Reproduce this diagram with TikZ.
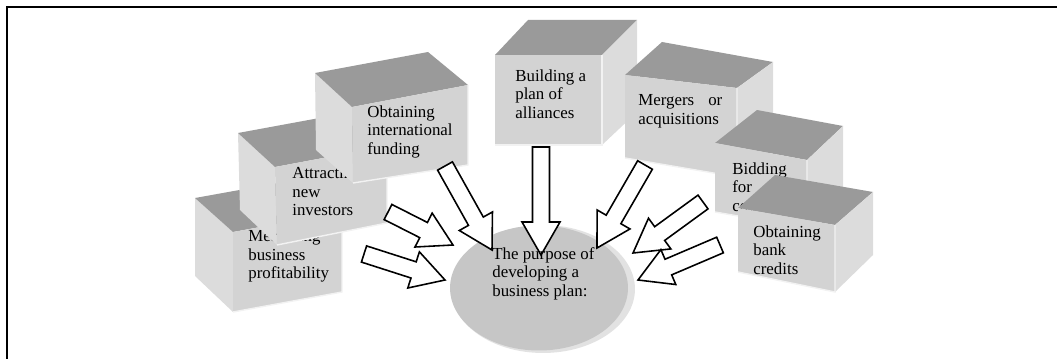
\documentclass[tikz,border=0pt]{standalone}
\usepackage{fontspec}
\setmainfont{Liberation Serif}
\usetikzlibrary{calc}
\definecolor{topc}{HTML}{9A9A9A}
\definecolor{frontc}{HTML}{D3D3D3}
\definecolor{sidec}{HTML}{DCDCDC}
\definecolor{ellc}{HTML}{C6C6C6}
\definecolor{rimc}{HTML}{E2E2E2}
\definecolor{hlc}{HTML}{F2F2F2}
\tikzset{
  lbl/.style={font=\fontsize{9.6}{10.6}\selectfont, align=left, inner sep=0pt, anchor=north west},
  barrow/.style={draw=black, fill=white, line width=0.9pt, line join=miter},
  hl/.style={draw=hlc, line width=0.8pt},
  frame/.style={line width=1.1pt}
}
\newcommand{\blockarr}[3]{%
  \coordinate (#1hc) at ($(#3)!0.66cm!(#2)$);
  \draw[barrow] ($(#2)!0.17cm!90:(#3)$) -- ($(#1hc)!0.17cm!90:(#3)$) -- ($(#1hc)!0.38cm!90:(#3)$)
     -- (#3) -- ($(#1hc)!0.38cm!-90:(#3)$) -- ($(#1hc)!0.17cm!-90:(#3)$) -- ($(#2)!0.17cm!-90:(#3)$) -- cycle;
}
\begin{document}
\begin{tikzpicture}[x=0.02cm,y=-0.02cm]
\useasboundingbox (0,0) rectangle (1057,358);
\draw[frame] (7,360) -- (7,7) -- (1060,7);

% Box 1: Measuring
\fill[sidec] (233,232) -- (195,198) -- (195,276) -- (233,312) -- cycle;
\fill[topc] (233,232) -- (342,212) -- (306,178) -- (195,198) -- cycle;
\fill[frontc] (233,232) -- (342,212) -- (342,292) -- (233,312) -- cycle;
\draw[hl] (233,312) -- (342,292) -- (342,212);
\node[lbl] (t1) at (248,230) {Measuring\\business\\profitability};

% Box 2: Attracting
\fill[sidec] (275,167) -- (238,133) -- (240,210) -- (277,245) -- cycle;
\fill[topc] (275,167) -- (387,146) -- (352,112) -- (238,133) -- cycle;
\fill[frontc] (275,167) -- (387,146) -- (387,223) -- (277,245) -- cycle;
\draw[hl] (277,245) -- (387,223) -- (387,146);
\node[lbl] (t2) at (292,167) {Attracting\\new\\investors};

% Box 3: Obtaining international funding
\fill[sidec] (352,107) -- (315,73) -- (316,150) -- (353,183) -- cycle;
\fill[topc] (352,107) -- (468,85) -- (428,52) -- (315,73) -- cycle;
\fill[frontc] (352,107) -- (468,85) -- (468,165) -- (353,183) -- cycle;
\draw[hl] (353,183) -- (468,165) -- (468,85);
\node[lbl] (t3) at (367,105) {Obtaining\\international\\funding};

% Box 4: Building a plan of alliances
\fill[topc] (495,55) -- (602,55) -- (637,20) -- (528,20) -- cycle;
\fill[sidec] (602,55) -- (637,20) -- (637,112) -- (602,145) -- cycle;
\fill[frontc] (495,55) -- (602,55) -- (602,145) -- (495,145) -- cycle;
\draw[hl] (495,145) -- (602,145) -- (602,55);
\node[lbl] (t4) at (515,69) {Building a\\plan of\\alliances};

% Box 5: Mergers or acquisitions
\fill[topc] (625,75) -- (737,88) -- (773,62) -- (662,42) -- cycle;
\fill[sidec] (737,88) -- (773,62) -- (773,150) -- (737,177) -- cycle;
\fill[frontc] (625,75) -- (737,88) -- (737,177) -- (625,158) -- cycle;
\draw[hl] (625,158) -- (737,177) -- (737,88);
\node[lbl] (t5) at (638,94) {\makebox[1.68cm][l]{Mergers\hfill or}\\acquisitions};

% Box 6: Bidding for contracts
\fill[topc] (715,143) -- (807,160) -- (843,126) -- (757,110) -- cycle;
\fill[sidec] (807,160) -- (843,126) -- (843,200) -- (807,228) -- cycle;
\fill[frontc] (715,143) -- (807,160) -- (807,228) -- (715,212) -- cycle;
\draw[hl] (715,212) -- (807,228) -- (807,160);
\node[lbl] (t6) at (732,162) {Bidding\\for\\contracts};

% Box 7: Obtaining bank credits
\fill[topc] (738,208) -- (835,225) -- (873,192) -- (775,175) -- cycle;
\fill[sidec] (835,225) -- (873,192) -- (873,255) -- (835,292) -- cycle;
\fill[frontc] (738,208) -- (835,225) -- (835,292) -- (738,272) -- cycle;
\draw[hl] (738,272) -- (835,292) -- (835,225);
\node[lbl] (t7) at (753,225) {Obtaining\\bank\\credits};

% Central ellipse
\fill[rimc] (543,289) ellipse [x radius=1.84cm, y radius=1.28cm];
\fill[ellc] (539,288) ellipse [x radius=1.78cm, y radius=1.25cm];

% connector end points
\coordinate (a1) at (364,254); \coordinate (b1) at (445,280);
\coordinate (a2) at (388,212); \coordinate (b2) at (453,245);
\coordinate (a3) at (445,166); \coordinate (b3) at (492,250);
\coordinate (a4) at (541,147); \coordinate (b4) at (541,255);
\coordinate (a5) at (645,165); \coordinate (b5) at (597,248);
\coordinate (a6) at (703,202); \coordinate (b6) at (633,253);
\coordinate (a7) at (720,245); \coordinate (b7) at (638,280);

\blockarr{c1}{a1}{b1}
\blockarr{c2}{a2}{b2}
\blockarr{c3}{a3}{b3}
\blockarr{c4}{a4}{b4}
\blockarr{c5}{a5}{b5}
\blockarr{c6}{a6}{b6}
\blockarr{c7}{a7}{b7}

\node[lbl] (tc) at (492,247) {The purpose of\\developing a\\business plan:};
\end{tikzpicture}
\end{document}
